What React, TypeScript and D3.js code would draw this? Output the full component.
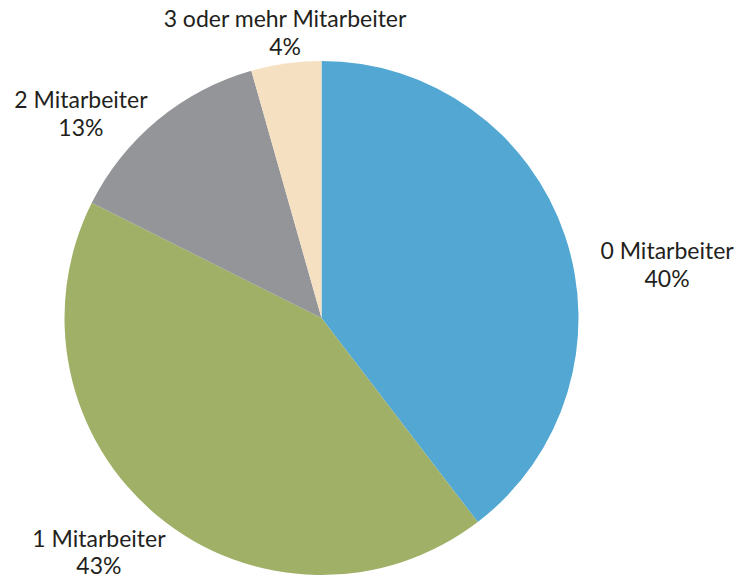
import React from "react";
import * as d3 from "d3";

const categories = ["0 Mitarbeiter", "1 Mitarbeiter", "2 Mitarbeiter", "3 oder mehr Mitarbeiter"];
const shares = [39.6, 42.8, 13.2, 4.4];
const colors = ["#52a7d3", "#a0b067", "#939598", "#f6e0c2"];

// hand nudges for the labels, relative to the label arc centroid
const labelNudge: [number, number][] = [
  [53.5, 40],
  [-26, -9],
  [-44, 28],
  [6, 14.5],
];

const width = 748;
const height = 584;
const cx = 321.5;
const cy = 318;
const radius = 257;

export default function App() {
  const pie = d3
    .pie<number>()
    .sort(null)
    .value(d => d);
  const arc = d3.arc<d3.PieArcDatum<number>>().innerRadius(0).outerRadius(radius);
  const labelArc = d3
    .arc<d3.PieArcDatum<number>>()
    .innerRadius(radius * 1.2)
    .outerRadius(radius * 1.2);
  const slices = pie(shares);
  const total = d3.sum(shares);

  return (
    <svg
      width={width}
      height={height}
      style={{ position: "absolute", left: 0, top: 0, background: "#fff" }}
      fontFamily="Lato, 'Open Sans', sans-serif"
    >
      <g transform={`translate(${cx},${cy})`}>
        {slices.map((s, i) => (
          <path key={i} d={arc(s) || ""} fill={colors[i]} />
        ))}
        {slices.map((s, i) => {
          const [x, y] = labelArc.centroid(s);
          const lx = x + labelNudge[i][0];
          const ly = y + labelNudge[i][1];
          return (
            <text key={"l" + i} x={lx} y={ly} textAnchor="middle" fontSize={23} fill="#231f20">
              <tspan x={lx}>{categories[i]}</tspan>
              <tspan x={lx} dy={27.5}>{`${Math.round((shares[i] / total) * 100)}%`}</tspan>
            </text>
          );
        })}
      </g>
    </svg>
  );
}
